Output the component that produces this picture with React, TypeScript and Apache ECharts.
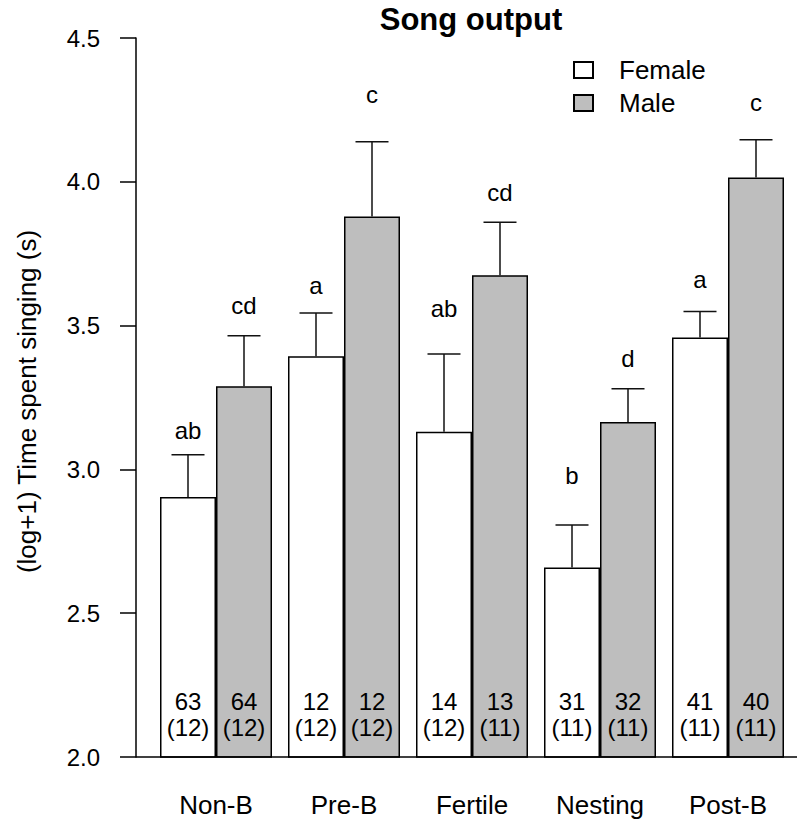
import { useEffect, useRef } from "react";
import * as echarts from "echarts";

const categories = ["Non-B", "Pre-B", "Fertile", "Nesting", "Post-B"];
const seriesNames = ["Female", "Male"];
const femaleMean = [2.904, 3.393, 3.131, 2.659, 3.459];
const femaleSE = [0.147, 0.151, 0.27, 0.148, 0.09];
const maleMean = [3.289, 3.879, 3.675, 3.165, 4.015];
const maleSE = [0.176, 0.26, 0.184, 0.115, 0.131];
const femaleLetters = ["ab", "a", "ab", "b", "a"];
const maleLetters = ["cd", "c", "cd", "d", "c"];
const femaleLetterY = [3.107, 3.611, 3.53, 2.95, 3.631];
const maleLetterY = [3.54, 4.274, 3.934, 3.358, 4.248];
const femaleN = ["63", "12", "14", "31", "41"];
const femaleBirds = ["(12)", "(12)", "(12)", "(11)", "(11)"];
const maleN = ["64", "12", "13", "32", "40"];
const maleBirds = ["(12)", "(12)", "(11)", "(11)", "(11)"];
const Y_MIN = 2.0;
const Y_MAX = 4.5;
const Y_INTERVAL = 0.5;

const FONT = "'Liberation Sans', Arial, Helvetica, sans-serif";
const BAR_W = 56;
const GRID_LEFT = 152;
const GRID_TOP = 38;
const GRID_H = 719;

function makeAnnot(
  name: string,
  mean: number[],
  se: number[],
  letters: string[],
  letterY: number[],
  n: string[],
  birds: string[],
  side: number
) {
  return {
    type: "custom",
    name,
    silent: true,
    z: 5,
    data: mean.map((m, i) => [i, m, m + se[i], letterY[i]]),
    encode: { x: 0, y: 1 },
    renderItem: (params: any, api: any) => {
      const i = api.value(0);
      const top = api.coord([i, api.value(1)]);
      const up = api.coord([i, api.value(2)]);
      const ly = api.coord([i, api.value(3)]);
      const base = api.coord([i, Y_MIN]);
      const cx = top[0] + (side * BAR_W) / 2;
      const cap = 16.5;
      const lineStyle = { stroke: "#111", lineWidth: 1.5, fill: null };
      return {
        type: "group",
        children: [
          { type: "line", shape: { x1: cx, y1: top[1], x2: cx, y2: up[1] }, style: lineStyle },
          { type: "line", shape: { x1: cx - cap, y1: up[1], x2: cx + cap, y2: up[1] }, style: lineStyle },
          {
            type: "text",
            x: cx,
            y: ly[1] - 8.4,
            style: { text: letters[i], fill: "#000", fontSize: 24, fontFamily: FONT, align: "center", verticalAlign: "middle" },
          },
          {
            type: "text",
            x: cx,
            y: base[1] - 55.5,
            style: { text: n[i], fill: "#000", fontSize: 24, fontFamily: FONT, align: "center", verticalAlign: "middle" },
          },
          {
            type: "text",
            x: cx,
            y: base[1] - 30,
            style: { text: birds[i], fill: "#000", fontSize: 24, fontFamily: FONT, align: "center", verticalAlign: "middle" },
          },
        ],
      };
    },
  };
}

export default function App() {
  const ref = useRef<HTMLDivElement>(null);
  useEffect(() => {
    if (!ref.current) return;
    const chart = echarts.init(ref.current, null, { renderer: "svg" });
    const baseY = GRID_TOP + GRID_H;
    chart.setOption({
      animation: false,
      backgroundColor: "#fff",
      textStyle: { fontFamily: FONT },
      grid: { left: GRID_LEFT, right: 5, top: GRID_TOP, height: GRID_H, containLabel: false },
      legend: {
        data: seriesNames,
        orient: "vertical",
        left: 568,
        top: 52,
        itemWidth: 19,
        itemHeight: 16,
        itemGap: 7,
        icon: "rect",
        selectedMode: false,
        textStyle: { fontSize: 26, color: "#000", fontFamily: FONT, padding: [0, 0, 0, 21] },
      },
      xAxis: {
        type: "category",
        data: categories,
        axisLine: { show: false },
        axisTick: { show: false },
        axisLabel: { fontSize: 26, color: "#000", fontFamily: FONT, margin: 35 },
      },
      yAxis: {
        type: "value",
        min: Y_MIN,
        max: Y_MAX,
        interval: Y_INTERVAL,
        offset: GRID_LEFT - 136,
        splitLine: { show: false },
        axisLine: { show: true, lineStyle: { color: "#000", width: 1.5 } },
        axisTick: { show: true, length: 16, lineStyle: { color: "#000", width: 1.5 } },
        axisLabel: {
          fontSize: 24,
          color: "#000",
          fontFamily: FONT,
          margin: 36,
          formatter: (v: number) => v.toFixed(1),
        },
      },
      graphic: [
        {
          type: "line",
          shape: { x1: 136, y1: baseY, x2: 797, y2: baseY },
          style: { stroke: "#000", lineWidth: 1.5 },
          z: 10,
        },
        {
          type: "text",
          x: 471,
          y: 19.5,
          style: {
            text: "Song output",
            fill: "#000",
            fontSize: 31,
            fontWeight: "bold",
            fontFamily: FONT,
            align: "center",
            verticalAlign: "middle",
          },
        },
        {
          type: "text",
          x: 27,
          y: 401.5,
          rotation: Math.PI / 2,
          style: {
            text: "(log+1) Time spent singing (s)",
            fill: "#000",
            fontSize: 26,
            fontFamily: FONT,
            align: "center",
            verticalAlign: "middle",
          },
        },
      ],
      series: [
        {
          type: "bar",
          name: seriesNames[0],
          data: femaleMean,
          barWidth: BAR_W,
          barGap: "0%",
          itemStyle: { color: "#ffffff", borderColor: "#000", borderWidth: 1.5 },
        },
        {
          type: "bar",
          name: seriesNames[1],
          data: maleMean,
          barWidth: BAR_W,
          barGap: "0%",
          itemStyle: { color: "#bebebe", borderColor: "#000", borderWidth: 1.5 },
        },
        makeAnnot("FemaleAnnot", femaleMean, femaleSE, femaleLetters, femaleLetterY, femaleN, femaleBirds, -1),
        makeAnnot("MaleAnnot", maleMean, maleSE, maleLetters, maleLetterY, maleN, maleBirds, 1),
      ],
    });
    return () => chart.dispose();
  }, []);
  return (
    <div
      ref={ref}
      style={{ position: "fixed", left: 0, top: 0, width: 797, height: 825, background: "#fff" }}
    />
  );
}
